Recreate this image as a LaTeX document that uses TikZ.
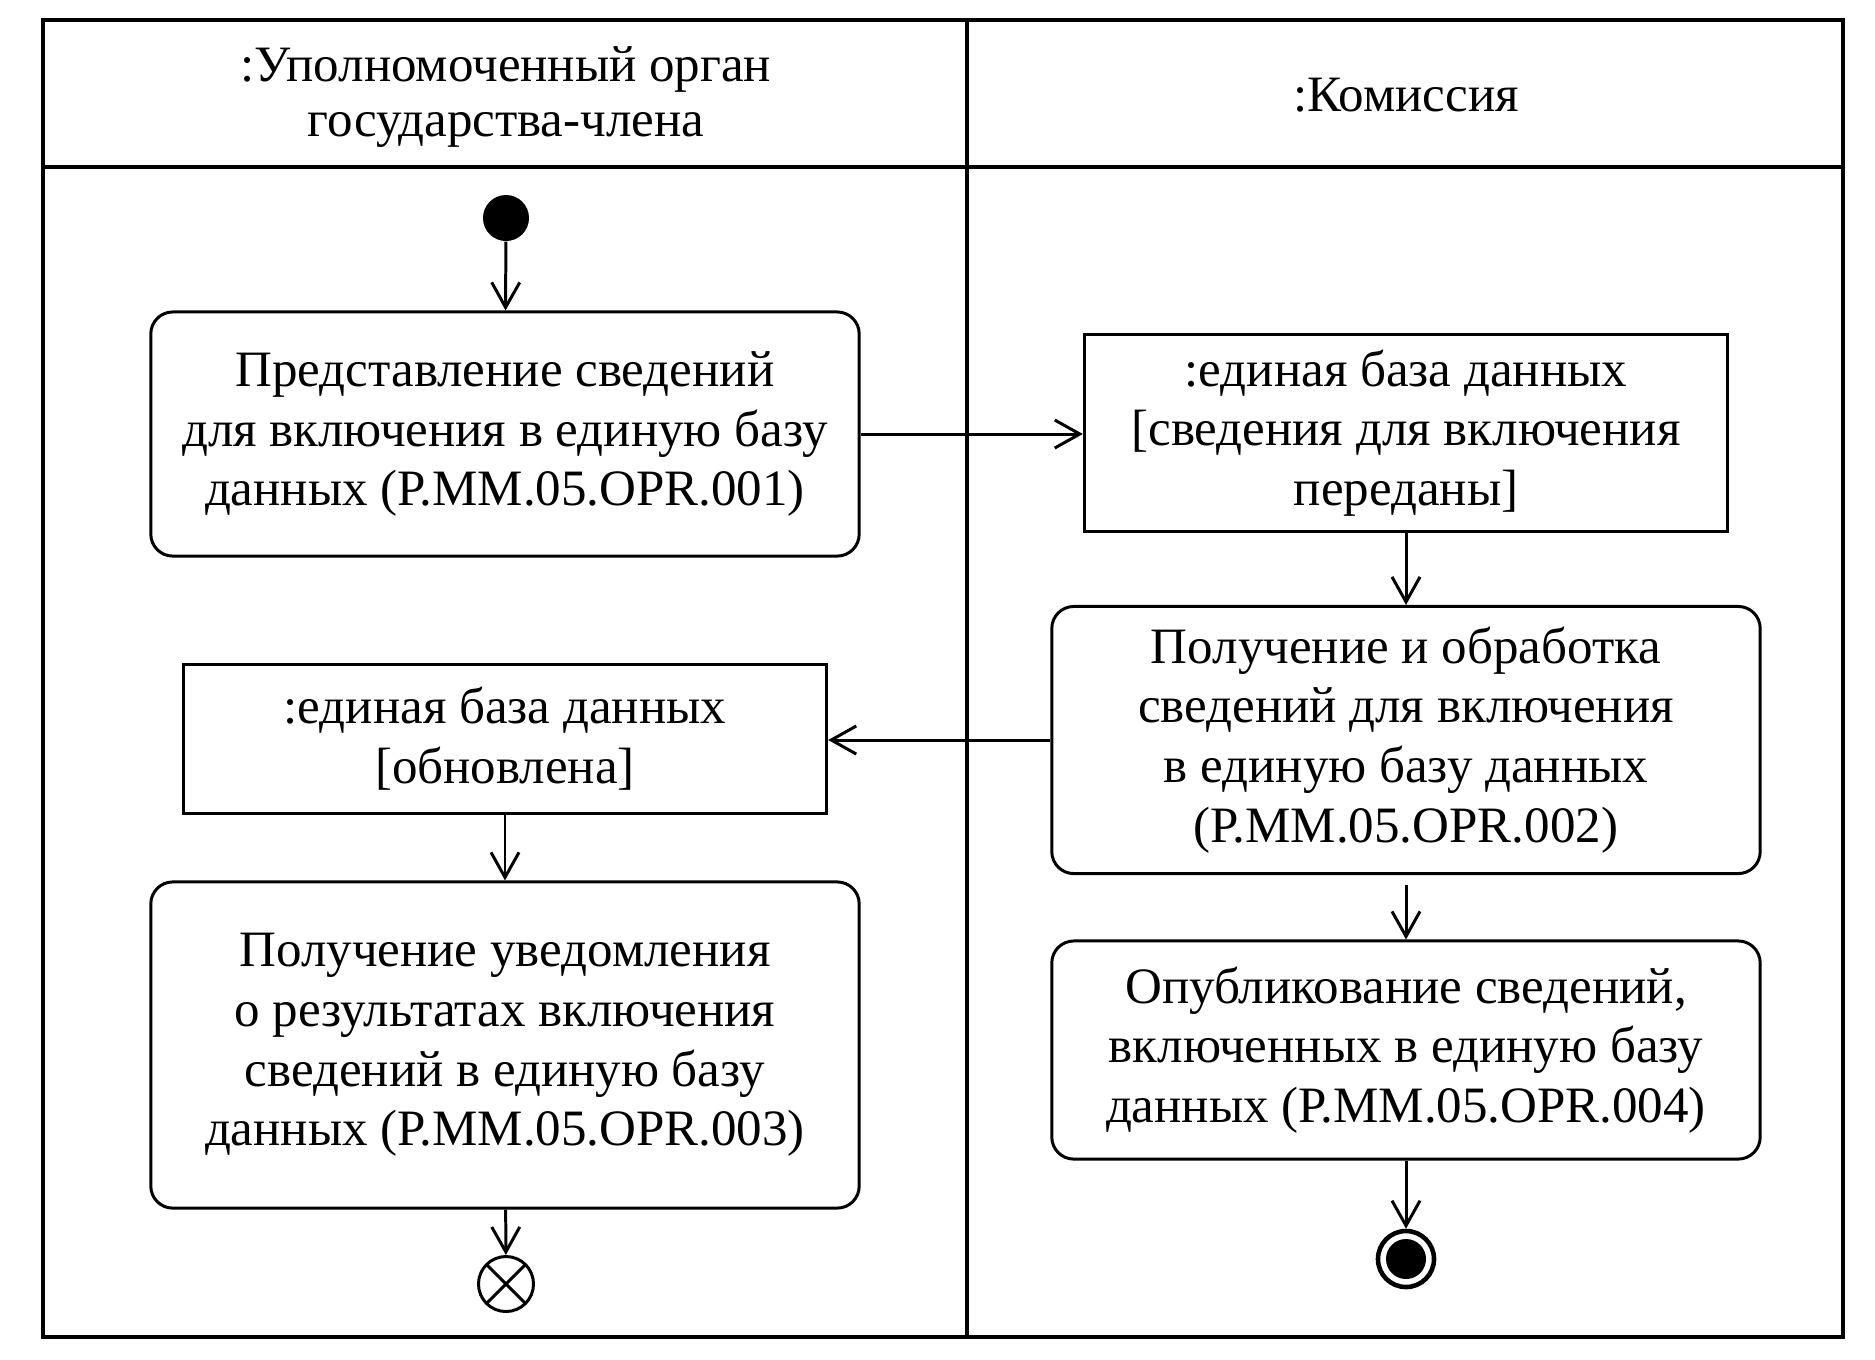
\documentclass[tikz,border=0pt]{standalone}
\usepackage{fontspec}
\setmainfont{Liberation Serif}
\usetikzlibrary{arrows.meta}

\begin{document}
\begin{tikzpicture}[x=0.01cm,y=-0.01cm,
		font=\fontsize{14.5}{17}\selectfont,
		act/.style={draw,line width=0.85pt,rounded corners=0.22cm,align=center,minimum width=7.08cm},
		obj/.style={draw,line width=0.85pt,align=center,minimum width=6.43cm},
		flow/.style={-{Straight Barb[length=0.25cm,width=0.28cm]},line width=0.85pt},
		lane/.style={line width=1.2pt},
		start/.style={circle,fill,inner sep=0pt,minimum size=0.46cm},
		flowstop/.style={circle,draw,line width=0.85pt,inner sep=0pt,minimum size=0.55cm,
			path picture={\draw[line width=0.85pt] (path picture bounding box.south west) -- (path picture bounding box.north east)
				(path picture bounding box.north west) -- (path picture bounding box.south east);}},
		finish/.style={circle,draw,line width=1.3pt,inner sep=0pt,minimum size=0.56cm,
			path picture={\fill (path picture bounding box.center) circle (0.2cm);}}]
	\useasboundingbox (0,0) rectangle (1875,1359);
	
	% swimlanes
	\begin{scope}[lane]
		\draw (43,20) rectangle (1843,1337);
		\draw (43,167) -- (1843,167);
		\draw (967,20) -- (967,1337);
	\end{scope}
	\node[align=center,font=\fontsize{14.5}{15.5}\selectfont] (laneA) at (506,97) {:Уполномоченный орган\\государства-члена};
	\node (laneB) at (1406,95) {:Комиссия};
	
	% left lane
	\node[start] (init) at (506,218) {};
	\node[act,minimum height=2.44cm] (pred) at (505,434) {Представление сведений\\для включения в единую базу\\данных (Р.ММ.05.OPR.001)};
	\node[obj,minimum height=1.48cm] (bd2) at (505,739) {:единая база данных\\{}[обновлена]};
	\node[act,minimum height=3.26cm] (uved) at (505,1045) {Получение уведомления\\о результатах включения\\сведений в единую базу\\данных (Р.ММ.05.OPR.003)};
	\node[flowstop] (stop) at (506,1284) {};
	
	% right lane
	\node[obj,minimum height=1.97cm] (bd1) at (1406,433) {:единая база данных\\{}[сведения для включения\\переданы]};
	\node[act,minimum height=2.67cm] (obr) at (1406,740) {Получение и обработка\\сведений для включения\\в единую базу данных\\(Р.ММ.05.OPR.002)};
	\node[act,minimum height=2.18cm] (opub) at (1406,1050) {Опубликование сведений,\\включенных в единую базу\\данных (Р.ММ.05.OPR.004)};
	\node[finish] (fin) at (1406,1259) {};
	
	\begin{scope}[flow]
		\draw (init) -- (pred);
		\draw (pred.east) -- (pred.east -| bd1.west);
		\draw (bd1) -- (obr);
		\draw (obr.west) -- (obr.west -| bd2.east);
		\draw (bd2) -- (uved);
		\draw (uved) -- (stop);
		\draw[shorten <=0.1cm] (obr) -- (opub);
		\draw (opub) -- (fin);
	\end{scope}
\end{tikzpicture}
\end{document}
